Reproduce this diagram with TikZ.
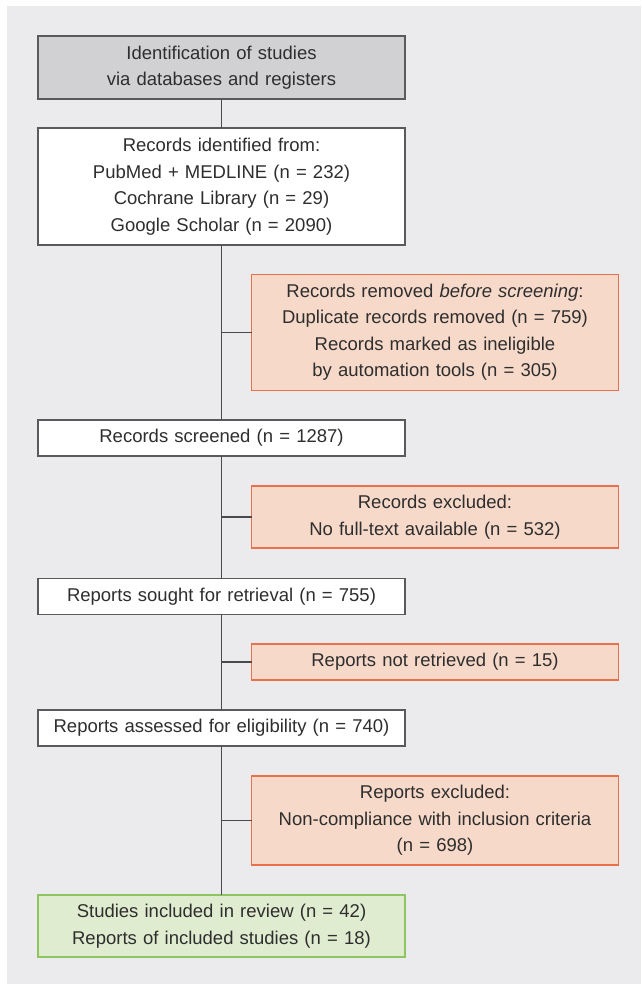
\documentclass[tikz,border=0pt]{standalone}
\usepackage{fontspec}
\setmainfont{Liberation Sans}
\definecolor{panel}{HTML}{EBEBED}
\definecolor{txt}{HTML}{2E2E2E}
\definecolor{grayfill}{HTML}{D1D1D3}
\definecolor{grayline}{HTML}{5A5A5C}
\definecolor{orfill}{HTML}{F6D9C9}
\definecolor{orline}{HTML}{E8704A}
\definecolor{grfill}{HTML}{E0ECD0}
\definecolor{grline}{HTML}{8DC660}
\definecolor{conn}{HTML}{4A4A4C}
\tikzset{
  box/.style={draw=grayline, line width=1.5pt, fill=white, minimum width=367pt, text width=362pt, align=center, inner sep=0pt, outer sep=0pt, text=txt, font=\fontsize{18.5}{26.5}\selectfont},
  headbox/.style={box, fill=grayfill},
  exclbox/.style={box, draw=orline, fill=orfill},
  inclbox/.style={box, draw=grline, fill=grfill},
  link/.style={draw=conn, line width=1.3pt}
}
\begin{document}
\begin{tikzpicture}[x=1pt,y=-1pt]
\useasboundingbox (0,0) rectangle (641,984);
\fill[white] (0,0) rectangle (641,984);
\fill[panel] (7,6) rectangle (641,984);
\node[headbox, minimum height=63pt] (b1) at (221.5,67.5) {Identification of studies\\via databases and registers};
\node[box, minimum height=117pt] (b2) at (221.5,186.5) {Records identified from:\\PubMed + MEDLINE (n = 232)\\Cochrane Library (n = 29)\\Google Scholar (n = 2090)};
\node[exclbox, minimum height=116pt] (b3) at (435,332.3) {Records removed \textit{before screening}:\\Duplicate records removed (n = 759)\\Records marked as ineligible\\by automation tools (n = 305)};
\node[box, minimum height=36pt] (b4) at (221.5,438) {Records screened (n = 1287)};
\node[exclbox, minimum height=62pt] (b5) at (435,517) {Records excluded:\\No full-text available (n = 532)};
\node[box, minimum height=36pt] (b6) at (221.5,596.5) {Reports sought for retrieval (n = 755)};
\node[exclbox, minimum height=36pt] (b7) at (435,662) {Reports not retrieved (n = 15)};
\node[box, minimum height=36pt] (b8) at (221.5,728) {Reports assessed for eligibility (n = 740)};
\node[exclbox, minimum height=89pt] (b9) at (435,820.5) {Reports excluded:\\Non-compliance with inclusion criteria\\(n = 698)};
\node[inclbox, minimum height=62pt] (b10) at (221.5,926) {Studies included in review (n = 42)\\Reports of included studies (n = 18)};
\draw[link] (b1) -- (b2);
\draw[link] (b2) -- (b4);
\draw[link] (b4) -- (b6);
\draw[link] (b6) -- (b8);
\draw[link] (b8) -- (b10);
\draw[link] (b3.west) -- (b3.west -| b2.south);
\draw[link] (b5.west) -- (b5.west -| b4.south);
\draw[link] (b7.west) -- (b7.west -| b6.south);
\draw[link] (b9.west) -- (b9.west -| b8.south);
\end{tikzpicture}
\end{document}
